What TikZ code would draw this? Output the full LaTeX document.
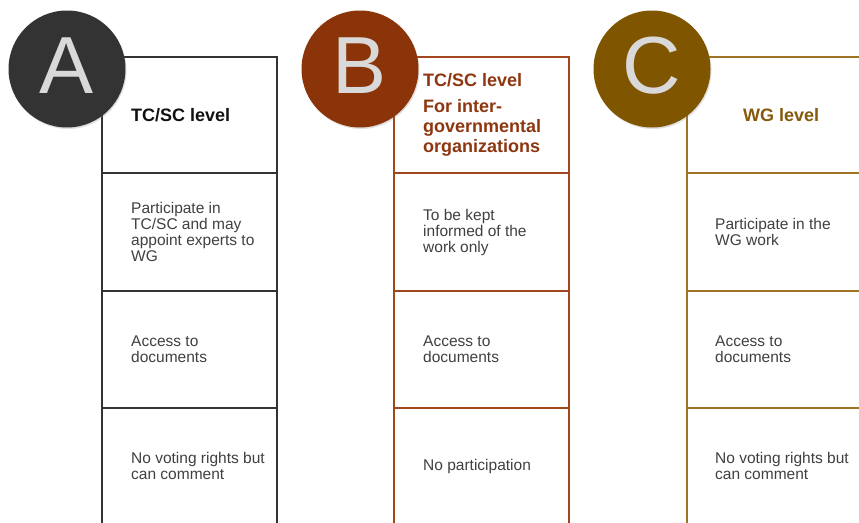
\documentclass[tikz,border=0pt]{standalone}
\usepackage{fontspec}
\setmainfont{Liberation Sans}
\usetikzlibrary{shadows}
\definecolor{circA}{HTML}{333333}
\definecolor{lineA}{HTML}{333333}
\definecolor{titA}{HTML}{111111}
\definecolor{circB}{HTML}{8C3409}
\definecolor{lineB}{HTML}{A2461C}
\definecolor{titB}{HTML}{8E3610}
\definecolor{circC}{HTML}{7F5500}
\definecolor{lineC}{HTML}{9E7424}
\definecolor{titC}{HTML}{87590A}
\definecolor{bodytext}{HTML}{404040}
\definecolor{lettergray}{HTML}{D9D9D9}
\begin{document}
\begin{tikzpicture}[x=1pt,y=-1pt,
  boxline/.style={line width=2.2pt},
  body/.style={font=\fontsize{15.5}{16}\selectfont, text=bodytext, align=left, inner sep=0pt, anchor=west},
  title/.style={font=\fontsize{18}{20}\selectfont\bfseries, align=left, inner sep=0pt, anchor=west},
  badge/.style={circle, minimum size=117pt, inner sep=0pt, drop shadow={opacity=0.25, shadow xshift=1pt, shadow yshift=-1.5pt}},
  letter/.style={font=\fontsize{81}{81}\selectfont, text=lettergray, inner sep=0pt, anchor=base}]
\useasboundingbox (0,0) rectangle (859,522);
\clip (0,0) rectangle (859,522);
\fill[white] (0,0) rectangle (859,522);

% Column A
\draw[boxline, lineA] (102,57) rectangle (277,540);
\foreach \yy in {173,291,408} \draw[boxline, lineA] (102,\yy) -- (277,\yy);
\node[title, text=titA] (a0) at (131,115) {TC/SC level};
\node[body] (a1) at (131,232) {Participate in\\TC/SC and may\\appoint experts to\\WG};
\node[body] (a2) at (131,349) {Access to\\documents};
\node[body] (a3) at (131,466) {No voting rights but\\can comment};

% Column B
\draw[boxline, lineB] (394,57) rectangle (569,540);
\foreach \yy in {173,291,408} \draw[boxline, lineB] (394,\yy) -- (569,\yy);
\node[title, text=titB] (b0) at (423,115) {TC/SC level\\[6pt]For inter-\\governmental\\organizations};
\node[body] (b1) at (423,232) {To be kept\\informed of the\\work only};
\node[body] (b2) at (423,349) {Access to\\documents};
\node[body] (b3) at (423,466) {No participation};

% Column C
\draw[boxline, lineC] (687,57) rectangle (862,540);
\foreach \yy in {173,291,408} \draw[boxline, lineC] (687,\yy) -- (862,\yy);
\node[title, text=titC] (c0) at (743,115) {WG level};
\node[body] (c1) at (715,232) {Participate in the\\WG work};
\node[body] (c2) at (715,349) {Access to\\documents};
\node[body] (c3) at (715,466) {No voting rights but\\can comment};

% Badges
\node[badge, fill=circA] (circleA) at (67,69) {};
\node[letter] (letA) at (67,93) {A};
\node[badge, fill=circB] (circleB) at (360,69) {};
\node[letter] (letB) at (360,93) {B};
\node[badge, fill=circC] (circleC) at (652,69) {};
\node[letter] (letC) at (652,93) {C};
\end{tikzpicture}
\end{document}
